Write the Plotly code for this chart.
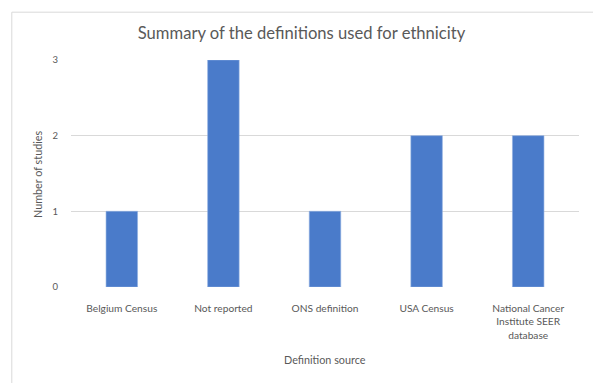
import plotly.graph_objects as go

# Chart data
categories = ["Belgium Census", "Not reported", "ONS definition", "USA Census",
              "National Cancer<br>Institute SEER<br>database"]
studies = [1, 3, 1, 2, 2]
y_ticks = [0, 1, 2, 3]

W, H = 593, 383
ML, MR, MT, MB = 70.7, 14.3, 60.3, 95.7
PW, PH = W - ML - MR, H - MT - MB

def px_x(x):
    return (x - ML) / PW

def px_y(y):
    return (H - MB - y) / PH

TEXT = "#595959"
FONT = "Lato"

fig = go.Figure(go.Bar(
    x=categories,
    y=studies,
    width=0.31,
    marker=dict(color="#4A7BCA", line=dict(color="#8FAEE0", width=0.6)),
))

fig.update_layout(
    width=W, height=H,
    margin=dict(l=ML, r=MR, t=MT, b=MB, pad=0),
    paper_bgcolor="white", plot_bgcolor="white",
    showlegend=False,
    font=dict(family=FONT, color=TEXT),
    title=dict(text="Summary of the definitions used for ethnicity",
               x=301.5 / W, xanchor="center", xref="container",
               y=1 - 33 / H, yanchor="middle", yref="container",
               font=dict(family=FONT, size=16.6, color=TEXT)),
    xaxis=dict(showgrid=False, showline=False, zeroline=False,
               ticks="", tickfont=dict(size=10.2, color=TEXT),
               ticklabelstandoff=14),
    yaxis=dict(range=[0, 3], tickvals=y_ticks, showgrid=True,
               gridcolor="#D9D9D9", gridwidth=1, zeroline=False,
               showline=False, ticks="", tickfont=dict(size=9.5, color=TEXT),
               ticklabelstandoff=12),
    shapes=[dict(type="rect", xref="paper", yref="paper",
                 x0=px_x(11.5), x1=px_x(610), y0=px_y(400), y1=px_y(12.5),
                 line=dict(color="#D9D9D9", width=1), layer="below")],
    annotations=[
        dict(text="Definition source", xref="paper", yref="paper",
             x=px_x(325), y=px_y(360), xanchor="center", yanchor="middle",
             showarrow=False, font=dict(family=FONT, size=10.8, color=TEXT)),
        dict(text="Number of studies", xref="paper", yref="paper",
             x=px_x(37), y=px_y(174), xanchor="center", yanchor="middle",
             textangle=-90, showarrow=False,
             font=dict(family=FONT, size=10.8, color=TEXT)),
    ],
)

fig.write_html("out.html")
